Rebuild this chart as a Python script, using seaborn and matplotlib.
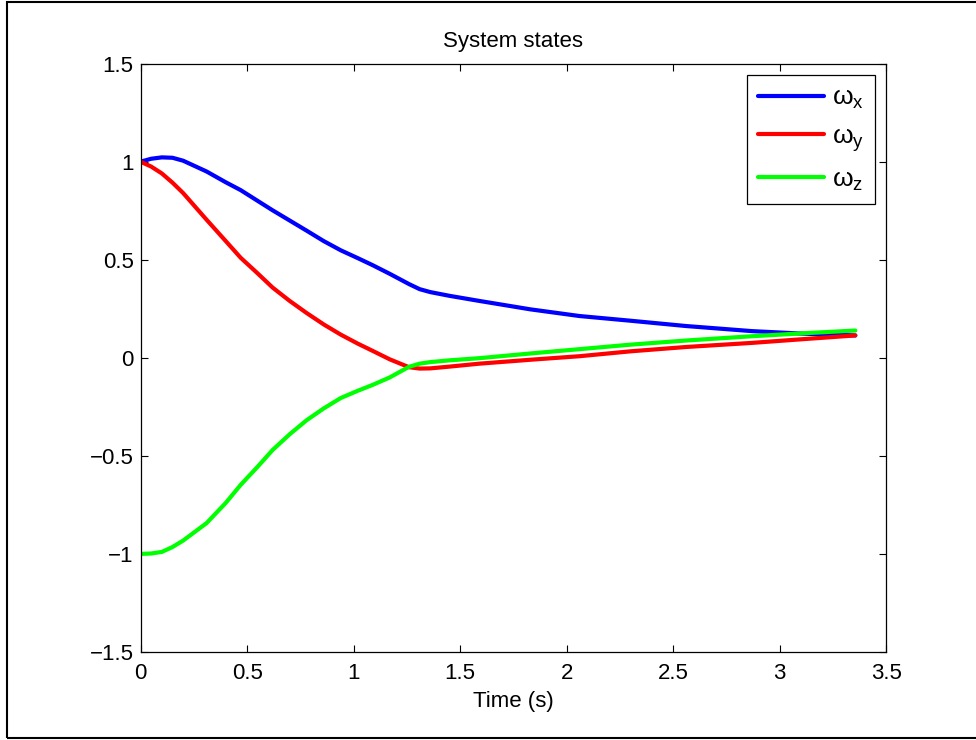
import matplotlib
matplotlib.use("Agg")

import matplotlib.pyplot as plt
import numpy as np
import pandas as pd
import seaborn as sns
from matplotlib.patches import Rectangle


# values
time_s = [0.0, 0.05, 0.1, 0.15, 0.2, 0.31, 0.4, 0.47, 0.55, 0.62,
          0.7, 0.78, 0.86, 0.94, 1.02, 1.09, 1.17, 1.26, 1.31, 1.36,
          1.45, 1.59, 1.83, 2.06, 2.30, 2.56, 2.87, 3.11, 3.355]
omega_x = [1.0, 1.015, 1.022, 1.02, 1.005, 0.95, 0.895, 0.855, 0.80, 0.752,
           0.70, 0.648, 0.595, 0.548, 0.508, 0.472, 0.428, 0.376, 0.350, 0.335,
           0.316, 0.29, 0.247, 0.213, 0.189, 0.162, 0.136, 0.123, 0.114]
omega_y = [1.0, 0.975, 0.94, 0.893, 0.84, 0.704, 0.595, 0.51, 0.43, 0.358,
           0.29, 0.228, 0.17, 0.118, 0.072, 0.035, -0.008, -0.048, -0.055, -0.054,
           -0.045, -0.03, -0.01, 0.008, 0.033, 0.055, 0.076, 0.095, 0.114]
omega_z = [-1.0, -0.998, -0.99, -0.965, -0.932, -0.843, -0.74, -0.648, -0.555, -0.47,
           -0.39, -0.318, -0.258, -0.205, -0.168, -0.138, -0.10, -0.046, -0.03, -0.022,
           -0.013, -0.002, 0.022, 0.044, 0.067, 0.088, 0.11, 0.125, 0.139]

series_labels = [r"$\mathrm{\omega}_\mathrm{x}$",
                 r"$\mathrm{\omega}_\mathrm{y}$",
                 r"$\mathrm{\omega}_\mathrm{z}$"]
series_colors = ["#0000ff", "#ff0000", "#00ff00"]

x_ticks = [0, 0.5, 1, 1.5, 2, 2.5, 3, 3.5]
y_ticks = [-1.5, -1, -0.5, 0, 0.5, 1, 1.5]


def build_frame():
    frames = []
    for label, values in zip(series_labels, [omega_x, omega_y, omega_z]):
        frames.append(pd.DataFrame({"t": time_s, "w": values, "state": label}))
    return pd.concat(frames, ignore_index=True)


def main():
    sns.set_style("ticks", {
        "xtick.direction": "in",
        "ytick.direction": "in",
        "text.color": "black",
        "axes.labelcolor": "black",
        "xtick.color": "black",
        "ytick.color": "black",
        "axes.edgecolor": "black",
    })
    plt.rcParams["font.family"] = ["Liberation Sans", "DejaVu Sans"]
    plt.rcParams["mathtext.fontset"] = "custom"
    plt.rcParams["mathtext.rm"] = "Liberation Sans"
    plt.rcParams["mathtext.it"] = "Liberation Sans"

    df = build_frame()

    fig = plt.figure(figsize=(9.76, 7.4), dpi=100)
    ax = fig.add_axes([0.144, 0.119, 0.764, 0.795])

    sns.lineplot(
        data=df,
        x="t",
        y="w",
        hue="state",
        palette=dict(zip(series_labels, series_colors)),
        sort=False,
        estimator=None,
        linewidth=3,
        ax=ax,
    )

    ax.set_xlim(0, 3.5)
    ax.set_ylim(-1.5, 1.5)
    ax.set_xticks(x_ticks)
    ax.set_yticks(y_ticks)
    ax.set_xticklabels([f"{v:g}" for v in x_ticks])
    ax.set_yticklabels([f"{v:g}".replace("-", "\u2212") for v in y_ticks])
    ax.tick_params(direction="in", length=5, width=0.8, labelsize=16,
                   top=True, right=True, pad=5, colors="black")
    ax.tick_params(axis="x", pad=8)
    for spine in ax.spines.values():
        spine.set_visible(True)
        spine.set_linewidth(0.9)
        spine.set_color("black")

    ax.set_title("System states", fontsize=16, pad=12, color="black")
    ax.set_xlabel("Time (s)", fontsize=16, labelpad=5, color="black")
    ax.set_ylabel("")

    handles, labels = ax.get_legend_handles_labels()
    leg = ax.legend(
        handles,
        labels,
        loc="upper right",
        fontsize=19,
        handlelength=2.5,
        handletextpad=0.3,
        labelspacing=0.52,
        borderaxespad=0.42,
        borderpad=0.42,
        frameon=True,
        fancybox=False,
        framealpha=1,
    )
    leg.get_frame().set_edgecolor("black")
    leg.get_frame().set_linewidth(0.9)
    for text in leg.get_texts():
        text.set_color("black")
    for line in leg.get_lines():
        line.set_linewidth(3)

    # outer figure frame (open on the right side)
    fig.patches.append(Rectangle((0.0072, 0.0027), 1.2, 0.9946, transform=fig.transFigure,
                                 fill=False, edgecolor="black", linewidth=1.5,
                                 clip_on=False))

    fig.savefig("out.png", dpi=100)
    plt.close(fig)


if __name__ == "__main__":
    main()
